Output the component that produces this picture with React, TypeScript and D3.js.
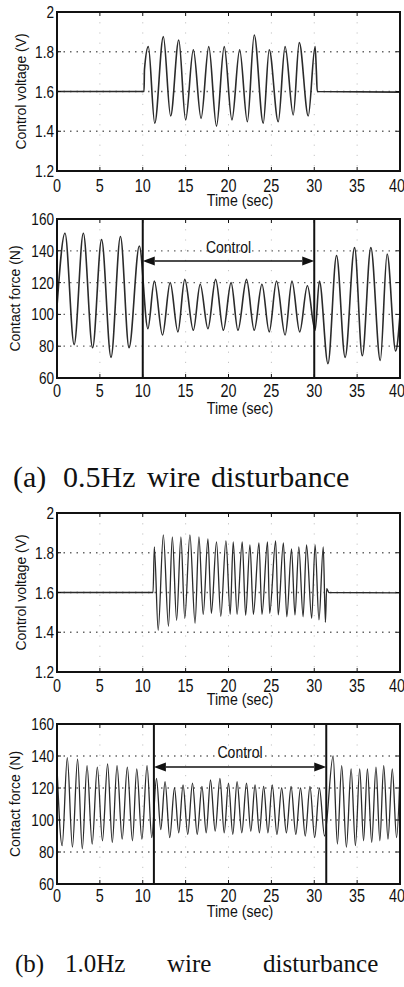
import * as d3 from "d3";

// shared axis ticks
const xTicks = [0, 5, 10, 15, 20, 25, 30, 35, 40];
const voltTicks = [1.2, 1.4, 1.6, 1.8, 2];
const forceTicks = [60, 80, 100, 120, 140, 160];

// (a) 0.5Hz – control voltage, turning points
const voltTimeA = [0, 10.15, 10.2, 10.65, 11.4, 12.4, 13.25, 14.2, 15.0, 15.9, 16.8, 17.7, 18.6, 19.5, 20.4, 21.3, 22.2, 23.0, 24.05, 24.75, 25.8, 26.6, 27.55, 28.25, 29.3, 30.1, 30.25, 30.35, 40];
const voltA = [1.6, 1.6, 1.71, 1.826, 1.44, 1.876, 1.477, 1.859, 1.457, 1.81, 1.465, 1.826, 1.426, 1.826, 1.457, 1.81, 1.448, 1.884, 1.44, 1.81, 1.448, 1.826, 1.482, 1.846, 1.477, 1.826, 1.7, 1.6, 1.597];

// (a) 0.5Hz – contact force
const forceTimeA = [0, 0.93, 2.0, 3.07, 4.15, 5.2, 6.3, 7.4, 8.4, 9.6, 10.6, 11.35, 12.3, 13.2, 14.1, 14.9, 15.9, 16.7, 17.6, 18.5, 19.4, 20.3, 21.1, 22.1, 23.0, 23.9, 24.75, 25.6, 26.6, 27.4, 28.3, 29.2, 30.1, 30.6, 31.6, 32.6, 33.6, 34.7, 35.6, 36.6, 37.7, 38.5, 39.5, 40];
const forceA = [105, 151, 81, 151, 79, 147, 73, 149, 79, 143, 91, 121, 87, 120, 89, 122, 90, 119, 91, 122, 90, 120, 90, 122, 90, 119, 89, 121, 87, 121, 89, 118, 90, 121, 69, 137, 73, 142, 74, 142, 71, 138, 77, 100];

// (b) 1.0Hz – control voltage
const voltTimeB = [0, 11.2, 11.35, 11.8, 12.4, 13.0, 13.45, 13.95, 14.45, 14.9, 15.5, 16.1, 16.55, 17.05, 17.6, 18.0, 18.6, 19.1, 19.7, 20.2, 20.55, 21.0, 21.6, 22.0, 22.5, 22.9, 23.55, 23.9, 24.55, 24.8, 25.5, 25.8, 26.4, 26.8, 27.35, 27.75, 28.2, 28.7, 29.1, 29.7, 30.1, 30.55, 31.05, 31.3, 31.45, 31.7, 40];
const voltB = [1.6, 1.6, 1.83, 1.41, 1.89, 1.43, 1.88, 1.46, 1.88, 1.47, 1.89, 1.445, 1.88, 1.49, 1.87, 1.495, 1.855, 1.48, 1.86, 1.49, 1.855, 1.49, 1.855, 1.485, 1.84, 1.49, 1.85, 1.49, 1.855, 1.495, 1.86, 1.487, 1.85, 1.478, 1.82, 1.487, 1.83, 1.478, 1.84, 1.47, 1.84, 1.462, 1.83, 1.45, 1.62, 1.6, 1.598];

// (b) 1.0Hz – contact force
const forceTimeB = [0, 0.6, 1.2, 1.8, 2.4, 2.95, 3.5, 4.1, 4.7, 5.3, 5.9, 6.45, 7.0, 7.6, 8.2, 8.8, 9.3, 9.9, 10.5, 11.05, 11.6, 12.1, 12.6, 13.15, 13.7, 14.2, 14.7, 15.25, 15.8, 16.35, 16.9, 17.4, 17.9, 18.45, 19.0, 19.5, 20.0, 20.5, 21.0, 21.55, 22.1, 22.6, 23.1, 23.6, 24.1, 24.6, 25.1, 25.65, 26.2, 26.75, 27.3, 27.85, 28.4, 28.95, 29.5, 30.05, 30.6, 31.2, 32.2, 32.7, 33.2, 33.75, 34.3, 34.8, 35.3, 35.75, 36.2, 36.7, 37.2, 37.65, 38.1, 38.6, 39.1, 39.6, 40];
const forceB = [133, 84, 139, 83, 138, 82, 134, 85, 133, 87, 135, 86, 134, 88, 133, 87, 132, 88, 134, 89, 126, 94, 124, 89, 120, 92, 122, 91, 123, 91, 121, 92, 125, 93, 126, 92, 123, 91, 124, 92, 123, 93, 122, 92, 121, 92, 122, 91, 120, 92, 121, 91, 120, 90, 121, 89, 120, 90, 140, 85, 134, 83, 132, 84, 132, 87, 132, 86, 133, 87, 134, 88, 132, 89, 128];

const controlA: [number, number] = [10, 30];
const controlB: [number, number] = [11.3, 31.4];

const SANS = "'Liberation Sans', Arial, sans-serif";
const SERIF = "'Liberation Serif', 'Times New Roman', serif";

const x = d3.scaleLinear().domain([0, 40]).range([57, 400]);

type TxtProps = {
  x: number;
  y: number;
  size: number;
  sx?: number;
  rotate?: number;
  anchor?: "start" | "middle" | "end";
  children: string;
};

// the scan's lettering is narrow, so squeeze it horizontally
const Txt = ({ x, y, size, sx = 0.85, rotate, anchor = "middle", children }: TxtProps) => (
  <text
    transform={`translate(${x},${y})${rotate ? ` rotate(${rotate})` : ""} scale(${sx},1)`}
    fontSize={size}
    fontFamily={SANS}
    textAnchor={anchor}
    fill="#111"
  >
    {children}
  </text>
);

type PanelProps = {
  top: number;
  bottom: number;
  domain: [number, number];
  yTicks: number[];
  times: number[];
  values: number[];
  yTitle: string;
  yTitleX: number;
  tickY: number;
  titleY: number;
  lineWidth: number;
  control?: [number, number];
  arrowY?: number;
  controlY?: number;
};

const Panel = (p: PanelProps) => {
  const y = d3.scaleLinear().domain(p.domain).range([p.bottom, p.top]);
  const line = d3
    .line<number>()
    .x((_, i) => x(p.times[i]))
    .y((v) => y(v))
    .curve(d3.curveMonotoneX);
  const [x0, x1] = x.range();
  const mid = (p.top + p.bottom) / 2;

  let arrow = null;
  if (p.control && p.arrowY !== undefined) {
    const a = x(p.control[0]);
    const b = x(p.control[1]);
    const ay = p.arrowY;
    const head = 12;
    arrow = (
      <g>
        <line x1={a + head} x2={b - head} y1={ay} y2={ay} stroke="#111" strokeWidth={1.6} />
        <path d={`M${a},${ay} L${a + head},${ay - 4.5} L${a + head},${ay + 4.5} Z`} fill="#111" />
        <path d={`M${b},${ay} L${b - head},${ay - 4.5} L${b - head},${ay + 4.5} Z`} fill="#111" />
        <Txt x={(a + b) / 2} y={p.controlY ?? ay - 8} size={16.5} sx={0.85}>
          Control
        </Txt>
      </g>
    );
  }

  return (
    <g>
      {/* dotted grid */}
      {p.yTicks.slice(1, -1).map((t) => (
        <line key={`h${t}`} x1={x0} x2={x1} y1={y(t)} y2={y(t)} stroke="#666" strokeWidth={1.3} strokeDasharray="1.5 5" />
      ))}
      {xTicks.slice(1, -1).map((t) => (
        <line key={`v${t}`} x1={x(t)} x2={x(t)} y1={p.top} y2={p.bottom} stroke="#c4c4c4" strokeWidth={1} strokeDasharray="1.2 9" />
      ))}

      <path d={line(p.values) ?? ""} fill="none" stroke="#2b2b2b" strokeWidth={p.lineWidth} strokeLinejoin="round" />

      {p.control &&
        p.control.map((c) => (
          <line key={`c${c}`} x1={x(c)} x2={x(c)} y1={p.top} y2={p.bottom} stroke="#111" strokeWidth={2} />
        ))}
      {arrow}

      {/* inward ticks */}
      {xTicks.map((t) => (
        <g key={`xt${t}`}>
          <line x1={x(t)} x2={x(t)} y1={p.bottom} y2={p.bottom - 4} stroke="#111" />
          <line x1={x(t)} x2={x(t)} y1={p.top} y2={p.top + 4} stroke="#111" />
        </g>
      ))}
      {p.yTicks.map((t) => (
        <g key={`yt${t}`}>
          <line x1={x0} x2={x0 + 4} y1={y(t)} y2={y(t)} stroke="#111" />
          <line x1={x1} x2={x1 - 4} y1={y(t)} y2={y(t)} stroke="#111" />
        </g>
      ))}

      <rect x={x0} y={p.top} width={x1 - x0} height={p.bottom - p.top} fill="none" stroke="#111" strokeWidth={2} />

      {/* tick labels */}
      {p.yTicks.map((t) => (
        <Txt key={`yl${t}`} x={54} y={y(t) + 6} size={17} sx={0.8} anchor="end">
          {String(t)}
        </Txt>
      ))}
      {xTicks.map((t) => (
        <Txt key={`xl${t}`} x={t === 40 ? x(t) - 3 : x(t)} y={p.tickY} size={18} sx={0.8}>
          {String(t)}
        </Txt>
      ))}

      <Txt x={240} y={p.titleY + 1} size={16.5} sx={0.86}>
        Time (sec)
      </Txt>
      <Txt x={p.yTitleX + 5} y={mid} size={15.5} sx={0.9} rotate={-90}>
        {p.yTitle}
      </Txt>
    </g>
  );
};

export default function App() {
  return (
    <svg
      width={404}
      height={987}
      style={{ position: "absolute", left: 0, top: 0, background: "#fff" }}
    >
      <Panel
        top={12}
        bottom={171}
        domain={[1.2, 2]}
        yTicks={voltTicks}
        times={voltTimeA}
        values={voltA}
        yTitle="Control voltage (V)"
        yTitleX={21}
        tickY={192}
        titleY={204.5}
        lineWidth={1.6}
      />
      <Panel
        top={219}
        bottom={378}
        domain={[60, 160]}
        yTicks={forceTicks}
        times={forceTimeA}
        values={forceA}
        yTitle="Contact force (N)"
        yTitleX={15}
        tickY={396.5}
        titleY={413}
        lineWidth={1.6}
        control={controlA}
        arrowY={261}
        controlY={253}
      />
      <text y={487} fontSize={30} fontFamily={SERIF} fill="#111">
        <tspan x={13}>(a)</tspan>
        <tspan x={63}>0.5Hz</tspan>
        <tspan x={147}>wire</tspan>
        <tspan x={211}>disturbance</tspan>
      </text>

      <Panel
        top={513}
        bottom={672}
        domain={[1.2, 2]}
        yTicks={voltTicks}
        times={voltTimeB}
        values={voltB}
        yTitle="Control voltage (V)"
        yTitleX={21}
        tickY={691.5}
        titleY={703.5}
        lineWidth={1.3}
      />
      <Panel
        top={724}
        bottom={884}
        domain={[60, 160]}
        yTicks={forceTicks}
        times={forceTimeB}
        values={forceB}
        yTitle="Contact force (N)"
        yTitleX={15}
        tickY={901.5}
        titleY={916}
        lineWidth={1.3}
        control={controlB}
        arrowY={767}
        controlY={758}
      />
      <text y={972} fontSize={25} fontFamily={SERIF} fill="#111">
        <tspan x={15}>(b)</tspan>
        <tspan x={65}>1.0Hz</tspan>
        <tspan x={167}>wire</tspan>
        <tspan x={263}>disturbance</tspan>
      </text>
    </svg>
  );
}
